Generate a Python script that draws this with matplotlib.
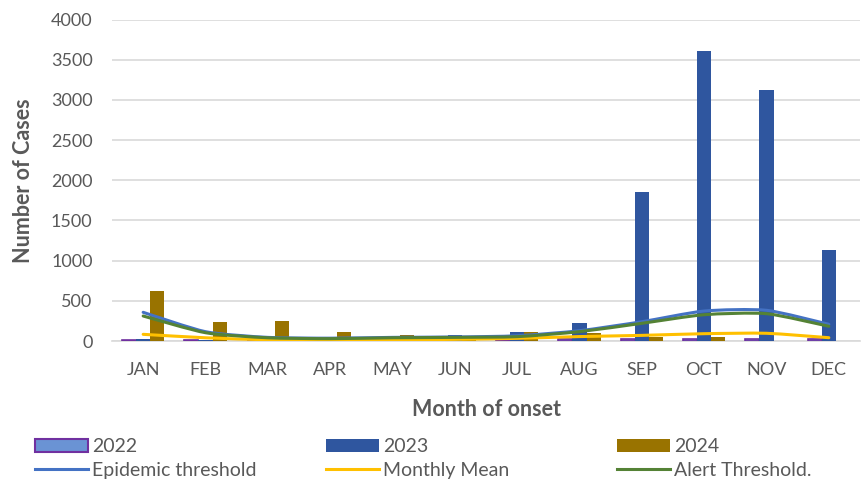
import numpy as np
import matplotlib
matplotlib.use("Agg")
import matplotlib.pyplot as plt
from matplotlib.path import Path
from matplotlib.patches import PathPatch, Patch
from matplotlib.lines import Line2D

plt.rcParams['font.family'] = ['Lato', 'DejaVu Sans']

months = ['JAN', 'FEB', 'MAR', 'APR', 'MAY', 'JUN', 'JUL', 'AUG', 'SEP', 'OCT', 'NOV', 'DEC']

# cases per year
cases_2022 = [15, 10, 5, 5, 5, 10, 10, 20, 20, 25, 25, 20]
cases_2023 = [30, 10, 5, 5, 10, 75, 112, 220, 1850, 3603, 3126, 1130]
cases_2024 = [622, 240, 245, 108, 75, 62, 108, 103, 54, 54, 0, 0]

# thresholds
epidemic = [357, 116, 45, 35, 45, 50, 65, 128, 240, 373, 382, 208]
monthly_mean = [83, 40, 15, 12, 15, 20, 33, 55, 70, 91, 96, 41]
alert = [311, 103, 40, 29, 40, 45, 54, 116, 220, 327, 340, 183]

yticks = [0, 500, 1000, 1500, 2000, 2500, 3000, 3500, 4000]

c2022 = '#6A93D4'
c2022_edge = '#7030A0'
c2023 = '#2F569F'
c2024 = '#997300'
c_epi = '#4472C4'
c_mean = '#FFC000'
c_alert = '#548235'
grey = '#595959'


def smooth_path(xs, ys, k=9.0):
    # catmull-rom style smoothing, as bezier segments
    xs = np.asarray(xs, float)
    ys = np.asarray(ys, float)
    pts = np.column_stack([xs, ys])
    verts = [pts[0]]
    codes = [Path.MOVETO]
    n = len(pts)
    for i in range(n - 1):
        p0 = pts[i - 1] if i > 0 else pts[i]
        p1 = pts[i]
        p2 = pts[i + 1]
        p3 = pts[i + 2] if i + 2 < n else pts[i + 1]
        c1 = p1 + (p2 - p0) / k
        c2 = p2 - (p3 - p1) / k
        verts += [c1, c2, p2]
        codes += [Path.CURVE4] * 3
    return Path(verts, codes)


fig = plt.figure(figsize=(8.65, 4.82), dpi=100)
ax = fig.add_axes([112 / 865, 1 - 341 / 482, 748 / 865, (341 - 19.5) / 482])

x = np.arange(len(months))
w = 0.225
ax.bar(x - w, cases_2022, w, color=c2022, edgecolor=c2022_edge, linewidth=1.2, zorder=3)
ax.bar(x, cases_2023, w, color=c2023, zorder=3)
ax.bar(x + w, cases_2024, w, color=c2024, zorder=3)

for vals, col in [(epidemic, c_epi), (monthly_mean, c_mean), (alert, c_alert)]:
    ax.add_patch(PathPatch(smooth_path(x, vals), facecolor='none', edgecolor=col,
                           lw=2.2, capstyle='round', zorder=4))

ax.set_xlim(-0.5, 11.5)
ax.set_ylim(0, 4000)
ax.set_yticks(yticks)
ax.set_xticks(x)
ax.set_xticklabels(months)
ax.grid(axis='y', color='#D9D9D9', lw=1.2, zorder=0)
for s in ['top', 'right', 'left']:
    ax.spines[s].set_visible(False)
ax.spines['bottom'].set_color('#D9D9D9')
ax.spines['bottom'].set_linewidth(1.2)
ax.tick_params(length=0, labelsize=13, colors=grey)
ax.tick_params(axis='x', pad=15)
ax.tick_params(axis='y', pad=14)

ax.set_xlabel('Month of onset', fontsize=15.5, fontweight='bold', color=grey, labelpad=15)
ax.set_ylabel('Number of Cases', fontsize=15.5, fontweight='bold', color=grey, labelpad=12)

# legend in three columns
cols = [
    (35, [Patch(facecolor=c2022, edgecolor=c2022_edge, linewidth=1.5),
          Line2D([], [], color=c_epi, lw=2.2)], ['2022', 'Epidemic threshold']),
    (326, [Patch(facecolor=c2023), Line2D([], [], color=c_mean, lw=2.2)], ['2023', 'Monthly Mean']),
    (617, [Patch(facecolor=c2024), Line2D([], [], color=c_alert, lw=2.2)], ['2024', 'Alert Threshold.']),
]
for xpix, hs, ls in cols:
    leg = fig.legend(hs, ls, loc='upper left', bbox_to_anchor=(xpix / 865, 1 - 438 / 482),
                     frameon=False, fontsize=14, handlelength=2.7, handleheight=0.65,
                     handletextpad=0.25, labelspacing=0.35, borderaxespad=0, borderpad=0)
    for t in leg.get_texts():
        t.set_color(grey)

fig.savefig('out.png', dpi=100)
